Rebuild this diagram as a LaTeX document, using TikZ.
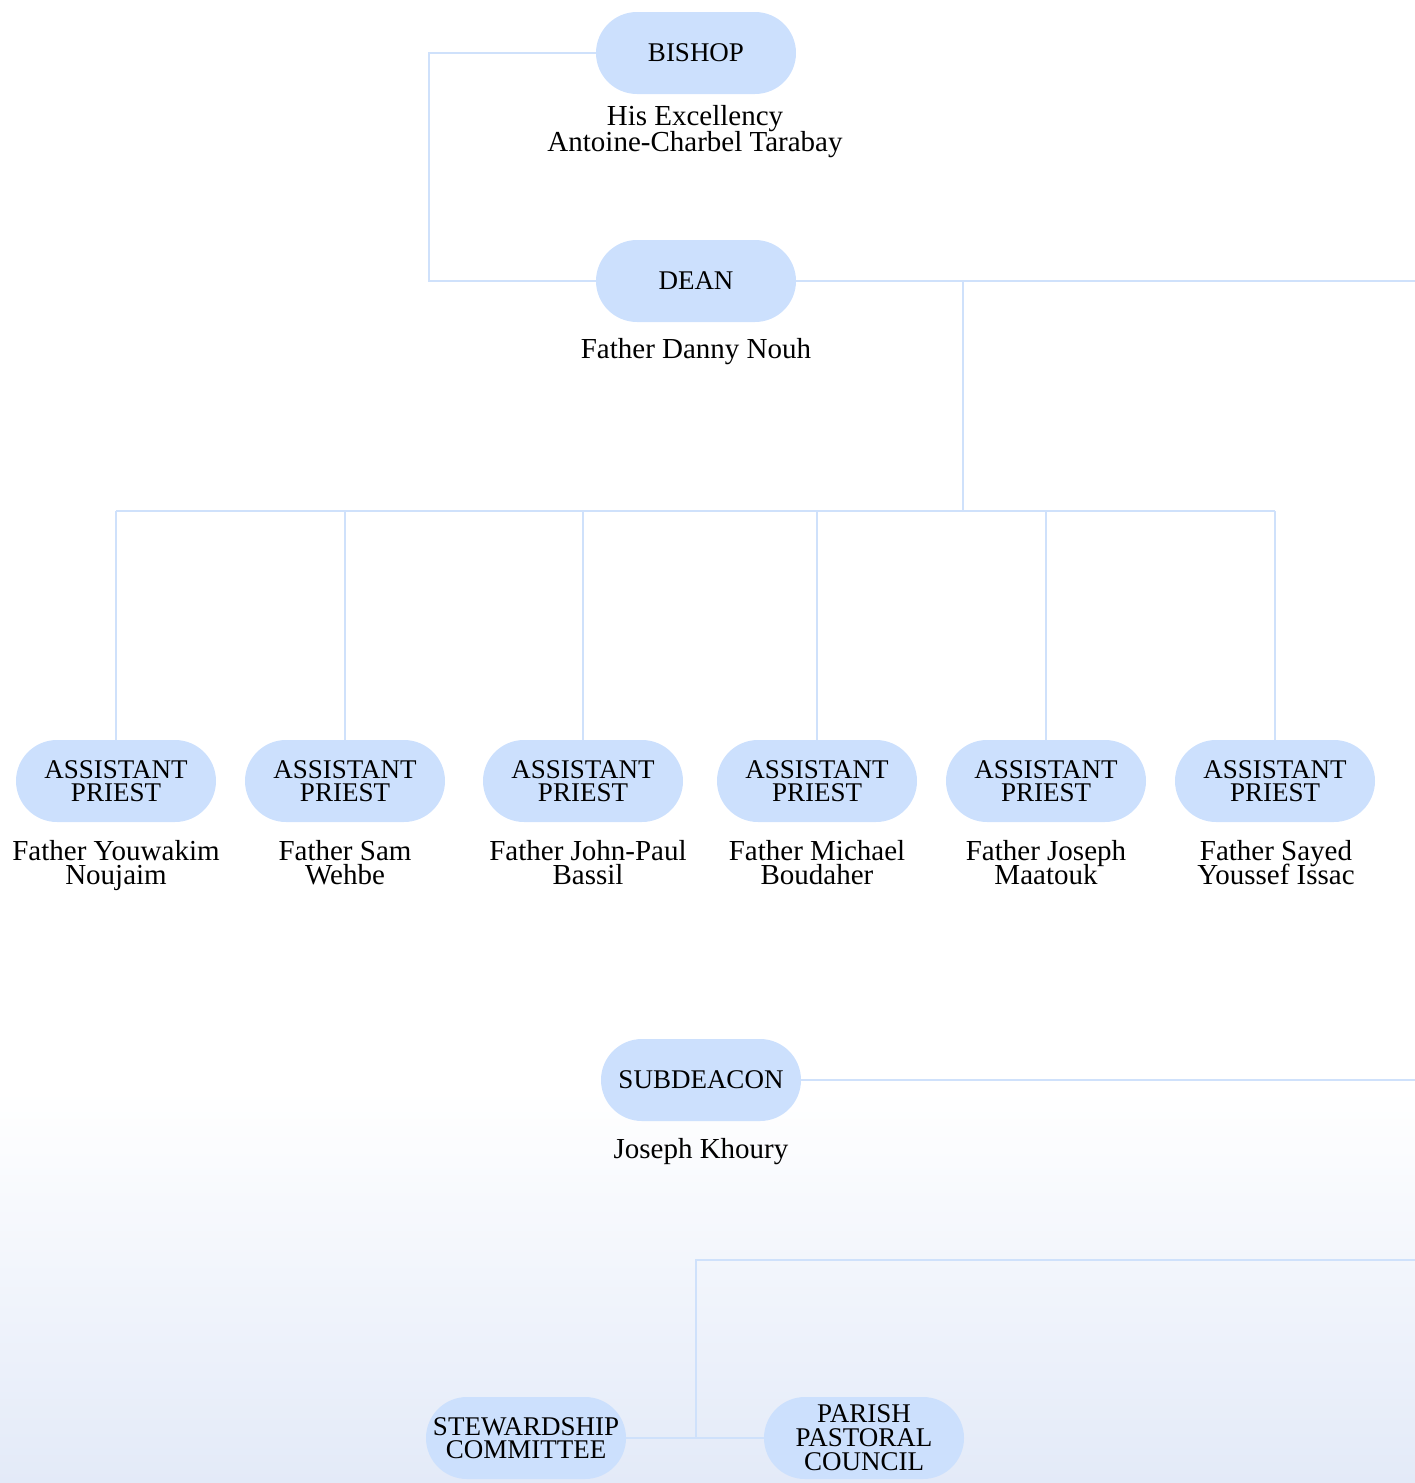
\documentclass[tikz,border=0pt]{standalone}
\usepackage{fontspec}
\setmainfont{Liberation Serif}
\lineskiplimit=-50pt
\definecolor{pillblue}{HTML}{CCE0FD}
\definecolor{linkblue}{HTML}{CFE1FB}
\definecolor{mistblue}{HTML}{E3EAF8}
\begin{document}
\begin{tikzpicture}[x=1pt,y=-1pt,
  pill/.style={draw=none,fill=pillblue,rounded corners=41pt,minimum width=200pt,minimum height=82pt,inner sep=0pt,align=center,font=\fontsize{27}{23}\selectfont},
  person/.style={align=center,inner sep=0pt,anchor=north,font=\fontsize{29}{25}\selectfont},
  link/.style={draw=linkblue,line width=2pt}]
\useasboundingbox (0,0) rectangle (1415,1483);
\shade[top color=white,bottom color=mistblue,draw=none] (0,1090) rectangle (1415,1483);
% top
\node[pill] (bishop) at (696,53) {BISHOP};
\node[person,font=\fontsize{29}{26}\selectfont] (bishopname) at (695,103) {\rule{0pt}{22pt}His Excellency\\Antoine-Charbel Tarabay};
\node[pill] (dean) at (696,281) {DEAN};
\node[person] (deanname) at (696,336) {\rule{0pt}{22pt}Father Danny Nouh};
\coordinate (deanR) at (1415,281);
\coordinate (deanT) at (963,281);
\coordinate (bus) at (963,511);
% assistant priests
\foreach \i/\x/\nx/\a/\b in {1/116/116/Father Youwakim/Noujaim,2/345/345/Father Sam/Wehbe,3/583/588/Father John-Paul/Bassil,4/817/817/Father Michael/Boudaher,5/1046/1046/Father Joseph/Maatouk,6/1275/1276/Father Sayed/Youssef Issac}{
  \node[pill] (ap\i) at (\x,781) {ASSISTANT\\PRIEST};
  \node[person,font=\fontsize{29}{24}\selectfont] (apn\i) at (\nx,838) {\rule{0pt}{22pt}\a\\\b};
}
% subdeacon
\node[pill] (sub) at (701,1080) {SUBDEACON};
\node[person] (subname) at (701,1136) {\rule{0pt}{22pt}Joseph Khoury};
\coordinate (subR) at (1415,1080);
% committees
\node[pill] (stew) at (526,1438) {STEWARDSHIP\\COMMITTEE};
\node[pill,font=\fontsize{27}{24}\selectfont] (parish) at (864,1438) {PARISH\\PASTORAL\\COUNCIL};
\coordinate (botR) at (1415,1260);
\coordinate (botC) at (696,1260);
\coordinate (botJ) at (696,1438);
% connectors
\draw[link] (bishop.west) -- ++(-167,0) |- (dean.west);
\draw[link] (dean.east) -- (deanR);
\draw[link] (deanT) -- (bus);
\draw[link] (ap1.north |- bus) -- (ap6.north |- bus);
\foreach \i in {1,...,6}{\draw[link] (ap\i.north |- bus) -- (ap\i.north);}
\draw[link] (sub.east) -- (subR);
\draw[link] (stew.east) -- (parish.west);
\draw[link] (botR) -- (botC) -- (botJ);
\end{tikzpicture}
\end{document}
